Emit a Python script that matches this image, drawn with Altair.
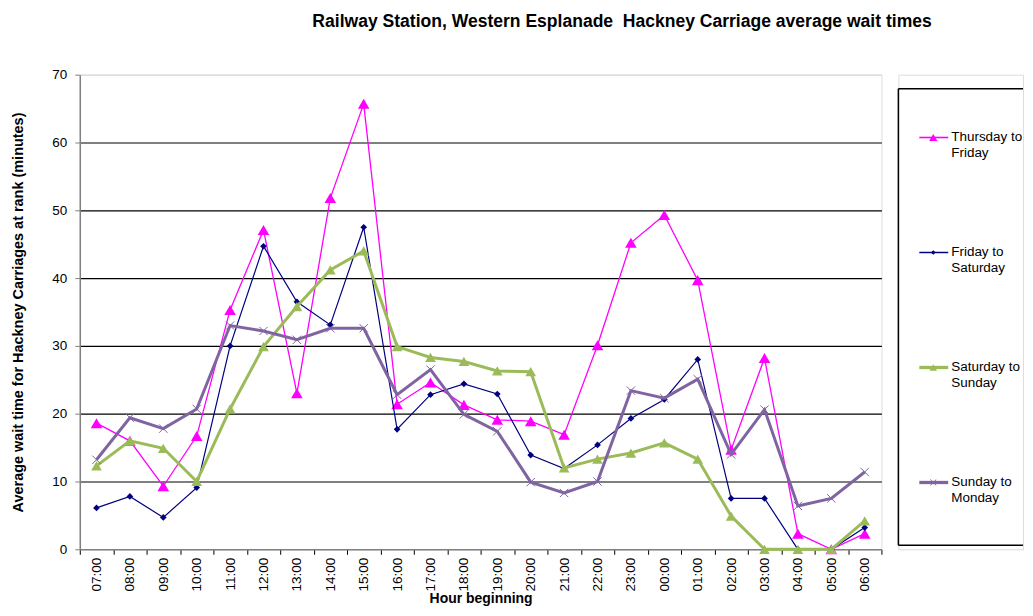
import altair as alt
import pandas as pd

HOURS = ["07:00", "08:00", "09:00", "10:00", "11:00", "12:00", "13:00", "14:00",
         "15:00", "16:00", "17:00", "18:00", "19:00", "20:00", "21:00", "22:00",
         "23:00", "00:00", "01:00", "02:00", "03:00", "04:00", "05:00", "06:00"]

SERIES = ["Thursday to Friday", "Friday to Saturday", "Saturday to Sunday", "Sunday to Monday"]

thu_fri = [18.6, 16.0, 9.3, 16.7, 35.3, 47.1, 23.0, 51.8, 65.7, 21.4, 24.6, 21.3,
           19.1, 18.9, 16.9, 30.1, 45.2, 49.3, 39.7, 14.7, 28.2, 2.3, 0.0, 2.3]
fri_sat = [6.1, 7.8, 4.7, 9.1, 30.0, 44.7, 36.5, 33.1, 47.5, 17.7, 22.8, 24.4,
           22.9, 13.9, 11.9, 15.4, 19.3, 22.1, 28.0, 7.5, 7.5, 0.0, 0.0, 3.2]
sat_sun = [12.3, 16.0, 14.9, 10.0, 20.7, 29.9, 35.8, 41.2, 44.0, 29.9, 28.3, 27.7,
           26.3, 26.2, 12.0, 13.3, 14.2, 15.7, 13.3, 4.9, 0.0, 0.0, 0.0, 4.2]
sun_mon = [13.2, 19.4, 17.8, 20.7, 33.0, 32.2, 30.9, 32.6, 32.6, 22.8, 26.5, 19.9,
           17.4, 9.9, 8.3, 10.0, 23.4, 22.3, 25.1, 14.0, 20.6, 6.4, 7.5, 11.4]

VALUES = [thu_fri, fri_sat, sat_sun, sun_mon]
COLORS = ["#FF00FF", "#000080", "#9BBB59", "#8064A2"]
WIDTHS = [1.3, 1.2, 3.0, 3.0]
XPATH = "M-1,-1L1,1M-1,1L1,-1"
SHAPES = ["triangle-up", "diamond", "triangle-up", XPATH]
SIZES = [135, 45, 115, 70]
FILLED = [True, True, True, False]

FONT = "Liberation Sans"

rows = []
for s, vals in zip(SERIES, VALUES):
    for h, v in zip(HOURS, vals):
        rows.append({"hour": h, "value": v, "series": s})
df = pd.DataFrame(rows)

x_enc = alt.X(
    "hour:N", sort=HOURS, bandPosition=0.5,
    scale=alt.Scale(type="band", paddingInner=0, paddingOuter=0),
    axis=alt.Axis(
        title="Hour beginning", titleFontWeight="bold", titleFontSize=14,
        titleFont=FONT, titlePadding=1, titleColor="black",
        labelAngle=-90, labelFontSize=13.5, labelFont=FONT, labelColor="black",
        labelPadding=3, tickBand="extent", tickSize=5, tickColor="#000000",
        domainColor="#808080", domainWidth=1.5, grid=False,
    ),
)
y_enc = alt.Y(
    "value:Q", scale=alt.Scale(domain=[0, 70], nice=False),
    axis=alt.Axis(
        title="Average wait time for Hackney Carriages at rank (minutes)",
        titleFontWeight="bold", titleFontSize=14.5, titleFont=FONT, titleColor="black",
        titlePadding=26, values=list(range(0, 71, 10)),
        labelFontSize=13.5, labelFont=FONT, labelColor="black", labelPadding=8,
        tickSize=5, tickColor="#808080", domainColor="#808080", domainWidth=1.5,
        grid=True, gridWidth=1.2,
        gridColor={"condition": [{"test": "datum.value === 70", "value": "#d9d9d9"},
                                 {"test": "datum.value === 0", "value": "transparent"}],
                   "value": "#000000"},
    ),
)

base = alt.Chart(df).encode(x=x_enc, y=y_enc)

layers = []
for i, s in enumerate(SERIES):
    sub = base.transform_filter(alt.datum.series == s)
    layers.append(sub.mark_line(color=COLORS[i], strokeWidth=WIDTHS[i]))
    layers.append(sub.mark_point(shape=SHAPES[i], color=COLORS[i], filled=FILLED[i],
                                 size=SIZES[i], opacity=1, strokeWidth=1))

main = alt.layer(*layers).properties(width=804, height=476)

# legend panel
LEG_W = 125
leg_df = pd.DataFrame({"series": SERIES,
                       "label": [s.replace(" to ", " to\n") for s in SERIES]})
ly = alt.Y("series:N", sort=SERIES, axis=None,
           scale=alt.Scale(type="point", range=[63, 409], padding=0))

one = pd.DataFrame({"a": [0]})
box_top = alt.Chart(one).mark_rule(color="#000000", strokeWidth=1.5).encode(
    x=alt.value(0), x2=alt.value(LEG_W), y=alt.value(14))
box_bottom = alt.Chart(one).mark_rule(color="#000000", strokeWidth=1.5).encode(
    x=alt.value(0), x2=alt.value(LEG_W), y=alt.value(472))
box_left = alt.Chart(one).mark_rule(color="#000000", strokeWidth=1.5).encode(
    x=alt.value(0), y=alt.value(14), y2=alt.value(472))

leg_layers = [box_top, box_bottom, box_left]
for i, s in enumerate(SERIES):
    sub = alt.Chart(leg_df).transform_filter(alt.datum.series == s)
    leg_layers.append(sub.mark_rule(color=COLORS[i], strokeWidth=WIDTHS[i] + 0.3).encode(
        x=alt.value(21), x2=alt.value(50), y=ly))
    leg_layers.append(sub.mark_point(shape=SHAPES[i], color=COLORS[i], filled=FILLED[i],
                                     size=SIZES[i] * 0.5, opacity=1, strokeWidth=1).encode(
        x=alt.value(35), y=ly))
leg_layers.append(alt.Chart(leg_df).mark_text(
    align="left", baseline="middle", fontSize=13.5, font=FONT, lineBreak="\n",
    lineHeight=16, color="black"
).encode(x=alt.value(53), y=ly, text="label:N"))

legend = alt.layer(*leg_layers).properties(width=LEG_W, height=476)

chart = alt.hconcat(main, legend, spacing=14).properties(
    title=alt.TitleParams(
        "Railway Station, Western Esplanade \u00a0Hackney Carriage average wait times",
        font=FONT, fontSize=17.6, fontWeight="bold", anchor="middle", dx=105,
        offset=37, color="black",
    ),
    padding={"left": 2, "top": 3, "right": 0, "bottom": 0},
).configure_view(stroke="transparent").configure(font=FONT)

chart.save("out.html", embed_options={"renderer": "svg", "actions": False})
